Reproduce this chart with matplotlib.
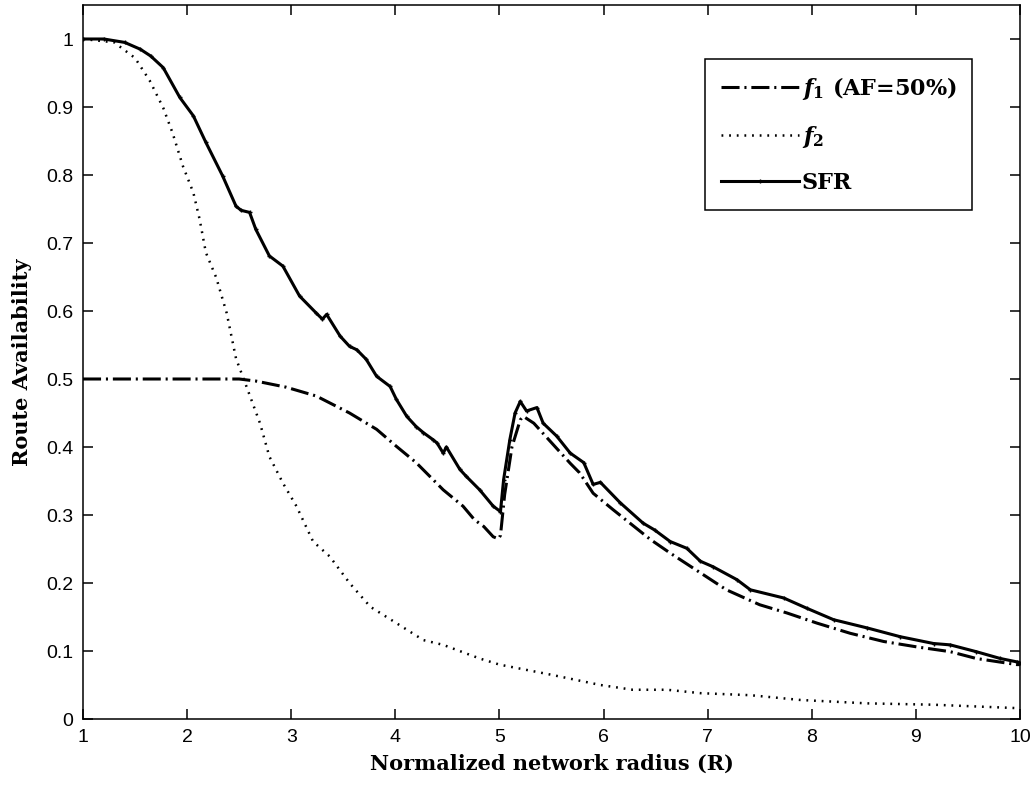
import matplotlib
matplotlib.use("Agg")
import matplotlib.pyplot as plt

# ---------------- data ----------------
sfr_x = [1.0, 1.2, 1.4, 1.55, 1.65, 1.77, 1.93, 2.06, 2.18, 2.34, 2.47, 2.52, 2.60, 2.66,
         2.79, 2.92, 3.08, 3.24, 3.30, 3.34, 3.47, 3.56, 3.63, 3.72, 3.82, 3.95, 4.01, 4.11,
         4.20, 4.27, 4.36, 4.40, 4.46, 4.49, 4.62, 4.68, 4.81, 4.94, 5.01, 5.04, 5.10, 5.15,
         5.20, 5.26, 5.36, 5.42, 5.55, 5.68, 5.81, 5.90, 5.97, 6.16, 6.38, 6.49, 6.64, 6.80,
         6.93, 7.05, 7.28, 7.41, 7.73, 7.95, 8.21, 8.53, 8.85, 9.17, 9.33, 9.58, 9.81, 9.97, 10.0]
sfr_y = [1.000, 1.000, 0.995, 0.985, 0.975, 0.958, 0.914, 0.887, 0.848, 0.799, 0.754, 0.748,
         0.745, 0.720, 0.681, 0.666, 0.622, 0.597, 0.588, 0.595, 0.563, 0.548, 0.543, 0.529,
         0.504, 0.489, 0.470, 0.445, 0.430, 0.421, 0.411, 0.406, 0.391, 0.400, 0.367, 0.357,
         0.337, 0.313, 0.305, 0.352, 0.411, 0.450, 0.467, 0.453, 0.458, 0.435, 0.416, 0.391,
         0.377, 0.345, 0.348, 0.318, 0.288, 0.278, 0.261, 0.251, 0.232, 0.224, 0.205, 0.190,
         0.178, 0.163, 0.146, 0.134, 0.121, 0.111, 0.109, 0.099, 0.089, 0.084, 0.083]

f1_x = [1.0, 2.5, 2.66, 2.95, 3.24, 3.56, 3.82, 4.01, 4.20, 4.46, 4.65, 4.76, 4.85, 4.94,
        4.99, 5.01, 5.05, 5.12, 5.20, 5.23, 5.33, 5.49, 5.68, 5.77, 5.90, 6.09, 6.45, 6.64,
        6.93, 7.18, 7.50, 7.76, 8.05, 8.37, 8.69, 9.01, 9.33, 9.58, 9.97, 10.0]
f1_y = [0.500, 0.500, 0.497, 0.488, 0.475, 0.450, 0.426, 0.401, 0.377, 0.337, 0.313, 0.293,
        0.283, 0.268, 0.265, 0.270, 0.330, 0.400, 0.440, 0.445, 0.435, 0.408, 0.376, 0.362,
        0.332, 0.308, 0.264, 0.244, 0.215, 0.190, 0.168, 0.156, 0.141, 0.126, 0.114, 0.106,
        0.099, 0.089, 0.080, 0.080]

f2_x = [1.0, 1.3, 1.50, 1.64, 1.77, 1.86, 1.96, 2.06, 2.12, 2.18, 2.28, 2.38, 2.47, 2.57,
        2.70, 2.79, 2.92, 3.05, 3.21, 3.37, 3.56, 3.76, 4.01, 4.27, 4.46, 4.81, 5.0, 5.5,
        5.97, 6.28, 6.61, 6.93, 7.41, 7.89, 8.53, 9.17, 9.97, 10.0]
f2_y = [1.000, 0.995, 0.972, 0.939, 0.899, 0.862, 0.813, 0.774, 0.735, 0.686, 0.649, 0.597,
        0.530, 0.489, 0.435, 0.386, 0.347, 0.313, 0.261, 0.239, 0.200, 0.165, 0.141, 0.116,
        0.109, 0.089, 0.080, 0.065, 0.050, 0.043, 0.043, 0.038, 0.035, 0.028, 0.023, 0.021,
        0.016, 0.015]

x_ticks = [1, 2, 3, 4, 5, 6, 7, 8, 9, 10]
y_ticks = [0, 0.1, 0.2, 0.3, 0.4, 0.5, 0.6, 0.7, 0.8, 0.9, 1]
y_tick_labels = ["0", "0.1", "0.2", "0.3", "0.4", "0.5", "0.6", "0.7", "0.8", "0.9", "1"]

label_f1 = r"$f_{\mathit{1}}$ (AF=50%)"
label_f2 = r"$f_{\mathit{2}}$"
label_sfr = "SFR"
x_label = "Normalized network radius (R)"
y_label = "Route Availability"

# ---------------- style ----------------
plt.rcParams["lines.scale_dashes"] = False
plt.rcParams["mathtext.fontset"] = "custom"
plt.rcParams["mathtext.it"] = "DejaVu Serif:italic:bold"
plt.rcParams["mathtext.rm"] = "DejaVu Serif:bold"

fig = plt.figure(figsize=(10.34, 7.86), dpi=100)
ax = fig.add_axes([83 / 1034, 67 / 786, 937 / 1034, 714 / 786])

ax.plot(f1_x, f1_y, color="black", lw=2.2, dashes=(13, 3.5, 1.5, 3.5), label=label_f1)
ax.plot(f2_x, f2_y, color="black", lw=1.8, dashes=(1.3, 4.2), label=label_f2)
ax.plot(sfr_x, sfr_y, color="black", lw=2.2, marker="+", markersize=3, label=label_sfr)

ax.set_xlim(1, 10)
ax.set_ylim(0, 1.05)
ax.set_xticks(x_ticks)
ax.set_yticks(y_ticks)
ax.set_yticklabels(y_tick_labels)

for sp in ax.spines.values():
    sp.set_linewidth(1.1)

ax.tick_params(direction="in", length=7, width=1.1, top=True, right=True,
               labelsize=14, pad=7)
for lab in ax.get_xticklabels() + ax.get_yticklabels():
    lab.set_family("Liberation Sans")

ax.set_xlabel(x_label, family="DejaVu Serif", weight="bold", fontsize=15, labelpad=6)
ax.set_ylabel(y_label, family="DejaVu Serif", weight="bold", fontsize=15, labelpad=10)

leg = ax.legend(loc="upper right", bbox_to_anchor=(0.949, 0.924), borderaxespad=0,
                prop={"family": "DejaVu Serif", "weight": "bold", "size": 16},
                frameon=True, fancybox=False, edgecolor="black", framealpha=1,
                handlelength=3.5, handletextpad=0.15, labelspacing=1.0,
                borderpad=0.7)
leg.get_frame().set_linewidth(1.1)

fig.savefig("out.png", dpi=100)
